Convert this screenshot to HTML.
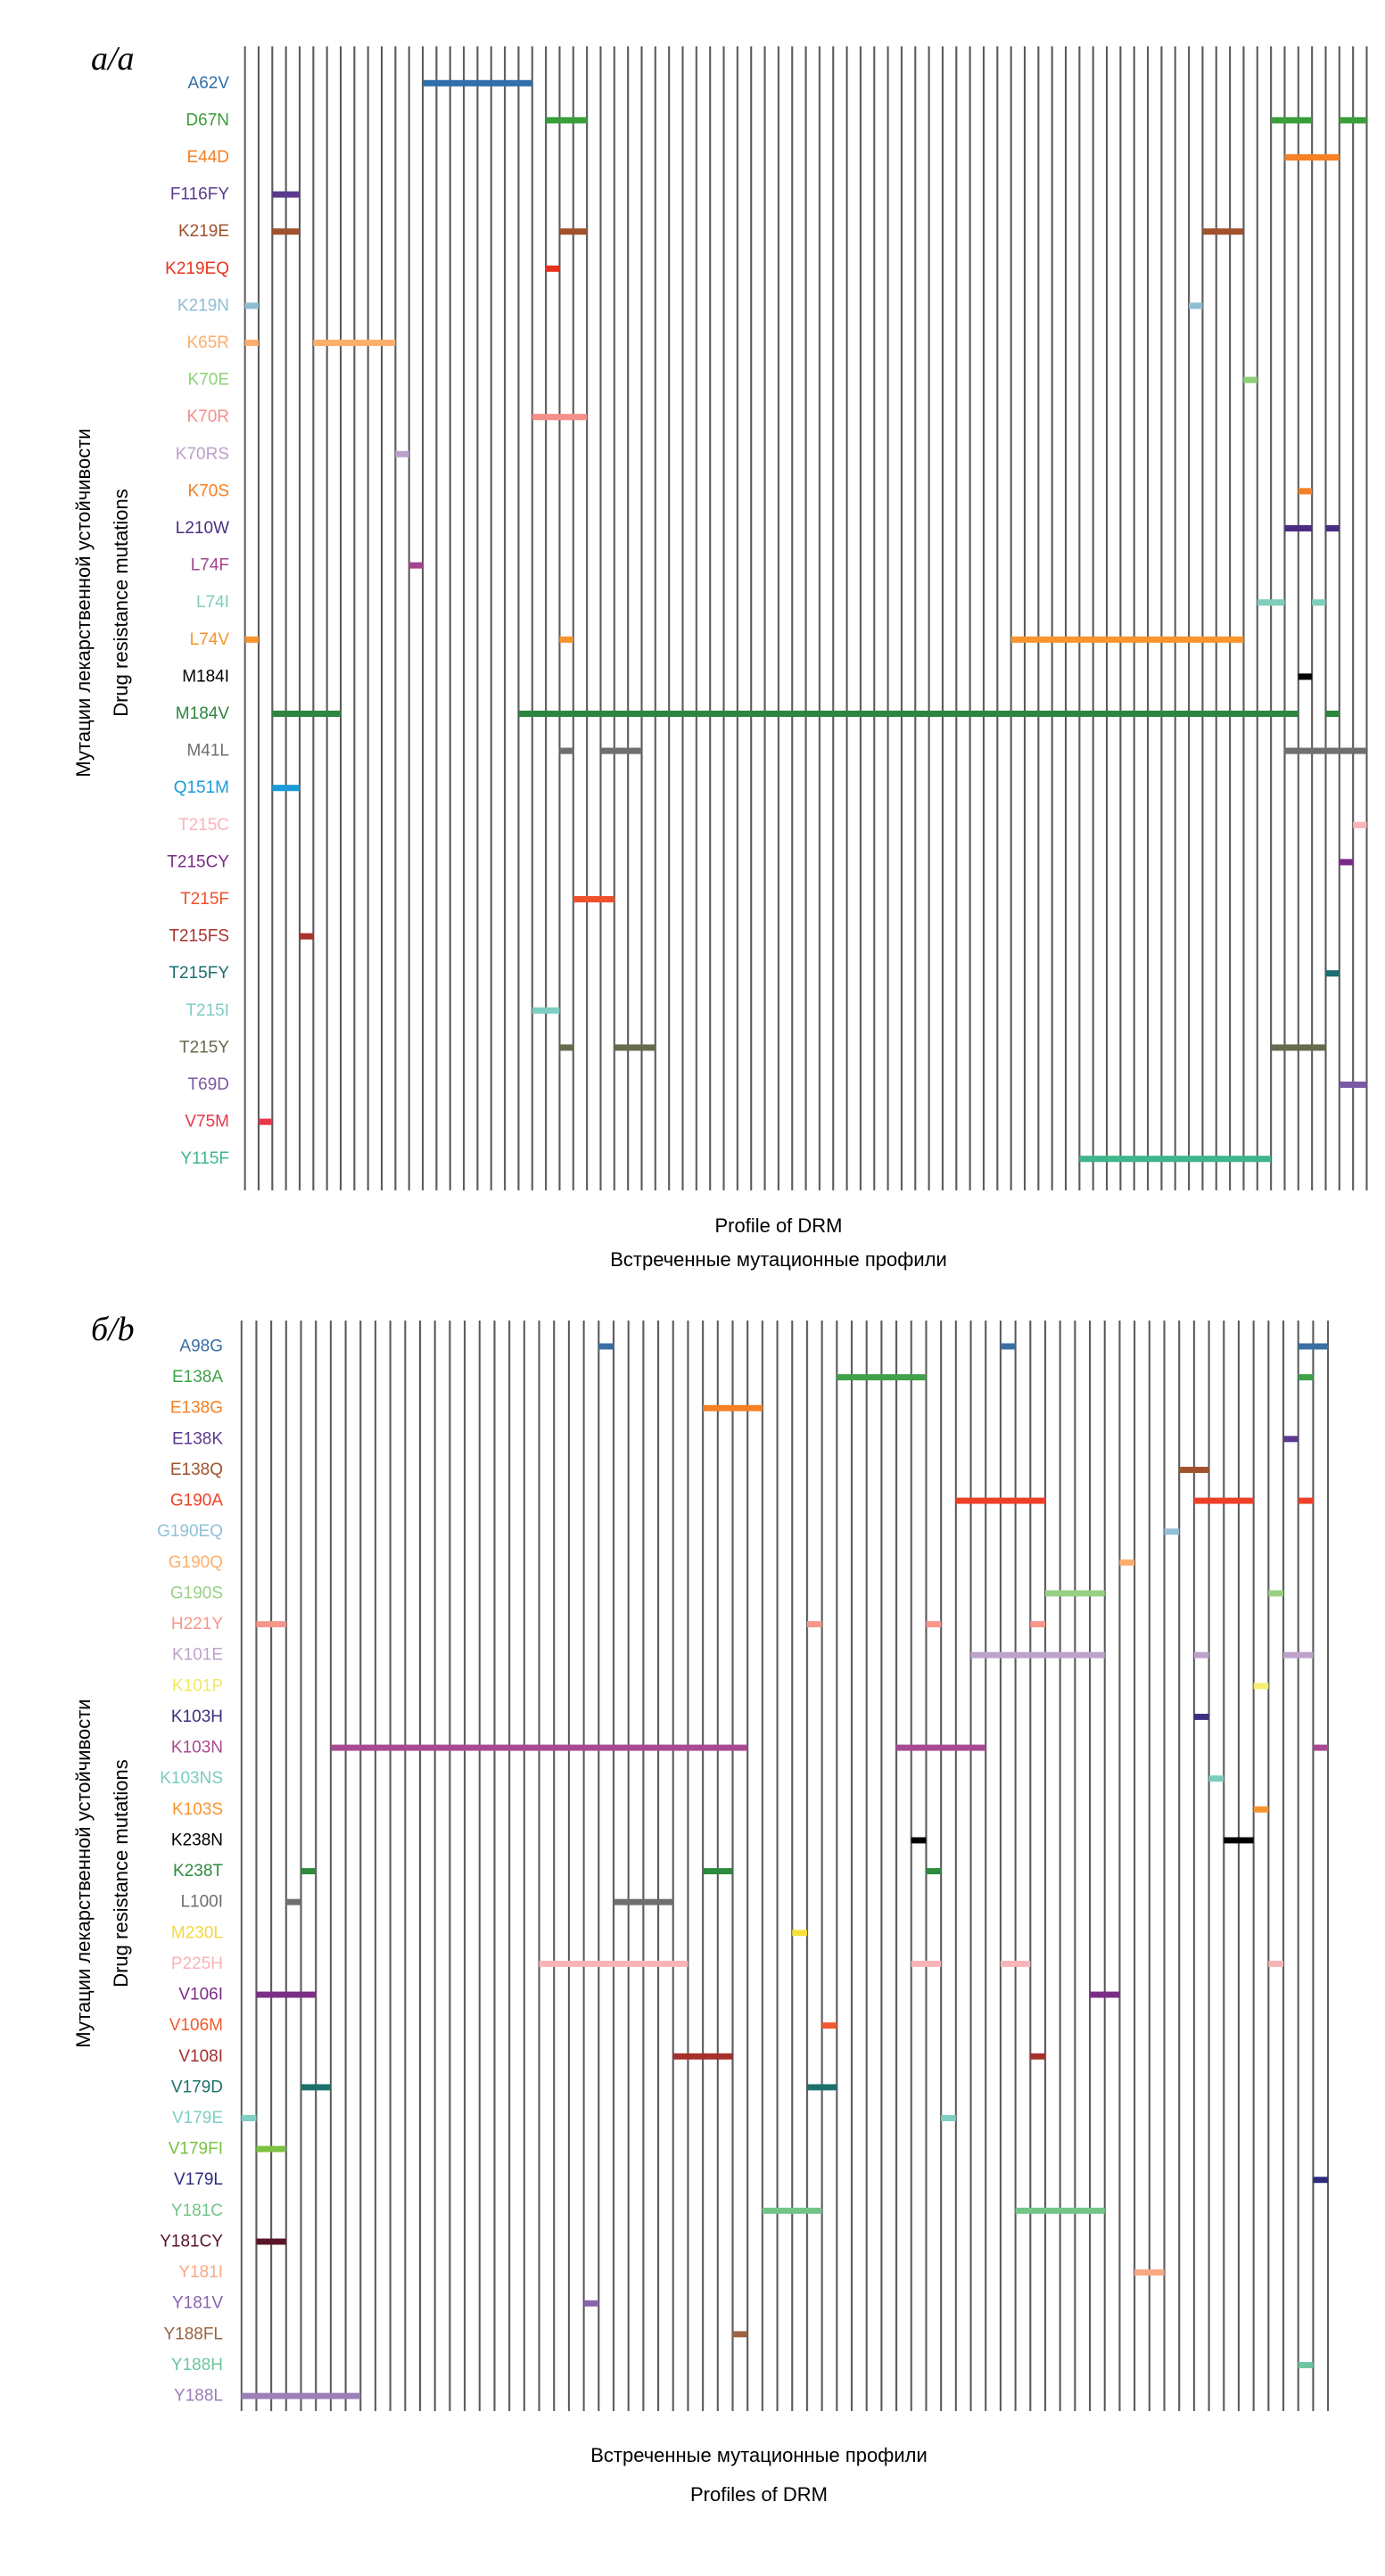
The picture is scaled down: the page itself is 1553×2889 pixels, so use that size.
<!DOCTYPE html>
<html><head><meta charset="utf-8">
<style>
html,body{margin:0;padding:0;background:#fff;}
svg{display:block;}
.lab{font-family:"Liberation Sans",sans-serif;font-size:19px;text-anchor:end;dominant-baseline:central;}
.ttl{font-family:"Liberation Sans",sans-serif;font-size:22px;fill:#000;text-anchor:middle;}
.pl{font-family:"Liberation Serif",serif;font-style:italic;font-size:38px;fill:#000;}
</style></head>
<body>
<svg width="1553" height="2889" viewBox="0 0 1553 2889" xmlns="http://www.w3.org/2000/svg">
<defs>
<pattern id="g1" patternUnits="userSpaceOnUse" x="273.6" y="0" width="15.34" height="10"><rect x="0" y="0" width="2.1" height="10" fill="#5a5a5a"/></pattern>
<pattern id="g2" patternUnits="userSpaceOnUse" x="269.7" y="0" width="16.69" height="10"><rect x="0" y="0" width="2.1" height="10" fill="#5a5a5a"/></pattern>
</defs>
<rect width="1553" height="2889" fill="#fff"/>
<rect x="273.6" y="52" width="1260.2" height="1283" fill="url(#g1)"/>
<rect x="269.7" y="1481" width="1220.5" height="1223" fill="url(#g2)"/>

<text class="pl" x="102" y="78">а/a</text>
<text class="pl" x="102" y="1503">б/b</text>

<text class="ttl" transform="translate(101,676) rotate(-90)">Мутации лекарственной устойчивости</text>
<text class="ttl" transform="translate(143,676) rotate(-90)">Drug resistance mutations</text>
<text class="ttl" transform="translate(101,2101) rotate(-90)">Мутации лекарственной устойчивости</text>
<text class="ttl" transform="translate(143,2101) rotate(-90)">Drug resistance mutations</text>

<text class="ttl" x="873" y="1382">Profile of DRM</text>
<text class="ttl" x="873" y="1420">Встреченные мутационные профили</text>
<text class="ttl" x="851" y="2761">Встреченные мутационные профили</text>
<text class="ttl" x="851" y="2805">Profiles of DRM</text>

<!-- top labels -->
<g transform="translate(257,93.3)">
<text class="lab" y="0" fill="#2f6fab">A62V</text>
<text class="lab" y="41.6" fill="#3a9e3a">D67N</text>
<text class="lab" y="83.2" fill="#f58025">E44D</text>
<text class="lab" y="124.8" fill="#5b3a8e">F116FY</text>
<text class="lab" y="166.4" fill="#a0522d">K219E</text>
<text class="lab" y="208" fill="#e8321e">K219EQ</text>
<text class="lab" y="249.6" fill="#8fbdd3">K219N</text>
<text class="lab" y="291.2" fill="#fdae6b">K65R</text>
<text class="lab" y="332.8" fill="#8fd17a">K70E</text>
<text class="lab" y="374.4" fill="#f4908a">K70R</text>
<text class="lab" y="416" fill="#bca0cc">K70RS</text>
<text class="lab" y="457.6" fill="#f58025">K70S</text>
<text class="lab" y="499.2" fill="#4a2d82">L210W</text>
<text class="lab" y="540.8" fill="#a4448f">L74F</text>
<text class="lab" y="582.4" fill="#7fcdbb">L74I</text>
<text class="lab" y="624" fill="#f7942c">L74V</text>
<text class="lab" y="665.6" fill="#000">M184I</text>
<text class="lab" y="707.2" fill="#2e8540">M184V</text>
<text class="lab" y="748.8" fill="#6f6f6f">M41L</text>
<text class="lab" y="790.4" fill="#1a9bd7">Q151M</text>
<text class="lab" y="832" fill="#fbb4b9">T215C</text>
<text class="lab" y="873.6" fill="#7b2a8a">T215CY</text>
<text class="lab" y="915.2" fill="#f0502a">T215F</text>
<text class="lab" y="956.8" fill="#a8322d">T215FS</text>
<text class="lab" y="998.4" fill="#1c6f6f">T215FY</text>
<text class="lab" y="1040" fill="#7fcdc4">T215I</text>
<text class="lab" y="1081.6" fill="#666b4d">T215Y</text>
<text class="lab" y="1123.2" fill="#7a58a3">T69D</text>
<text class="lab" y="1164.8" fill="#e8364a">V75M</text>
<text class="lab" y="1206.4" fill="#3fb58a">Y115F</text>
</g>

<svg x="274.6" y="93.3" width="1257.9" height="1206.4" viewBox="0 0 82 29" preserveAspectRatio="none" overflow="visible">
<g transform="translate(0,-0.085)">
<rect x="13" y="0" width="8" height="0.17" fill="#2f6fab"/>
<g fill="#3a9e3a"><rect x="22" y="1" width="3" height="0.17"/><rect x="75" y="1" width="3" height="0.17"/><rect x="80" y="1" width="2" height="0.17"/></g>
<rect x="76" y="2" width="4" height="0.17" fill="#f58025"/>
<rect x="2" y="3" width="2" height="0.17" fill="#5b3a8e"/>
<g fill="#a0522d"><rect x="2" y="4" width="2" height="0.17"/><rect x="23" y="4" width="2" height="0.17"/><rect x="70" y="4" width="3" height="0.17"/></g>
<rect x="22" y="5" width="1" height="0.17" fill="#e8321e"/>
<g fill="#8fbdd3"><rect x="0" y="6" width="1" height="0.17"/><rect x="69" y="6" width="1" height="0.17"/></g>
<g fill="#fdae6b"><rect x="0" y="7" width="1" height="0.17"/><rect x="5" y="7" width="6" height="0.17"/></g>
<rect x="73" y="8" width="1" height="0.17" fill="#8fd17a"/>
<rect x="21" y="9" width="4" height="0.17" fill="#f4908a"/>
<rect x="11" y="10" width="1" height="0.17" fill="#bca0cc"/>
<rect x="77" y="11" width="1" height="0.17" fill="#f58025"/>
<g fill="#4a2d82"><rect x="76" y="12" width="2" height="0.17"/><rect x="79" y="12" width="1" height="0.17"/></g>
<rect x="12" y="13" width="1" height="0.17" fill="#a4448f"/>
<g fill="#7fcdbb"><rect x="74" y="14" width="2" height="0.17"/><rect x="78" y="14" width="1" height="0.17"/></g>
<g fill="#f7942c"><rect x="0" y="15" width="1" height="0.17"/><rect x="23" y="15" width="1" height="0.17"/><rect x="56" y="15" width="17" height="0.17"/></g>
<rect x="77" y="16" width="1" height="0.17" fill="#000"/>
<g fill="#2e8540"><rect x="2" y="17" width="5" height="0.17"/><rect x="20" y="17" width="57" height="0.17"/><rect x="79" y="17" width="1" height="0.17"/></g>
<g fill="#6f6f6f"><rect x="23" y="18" width="1" height="0.17"/><rect x="26" y="18" width="3" height="0.17"/><rect x="76" y="18" width="6" height="0.17"/></g>
<rect x="2" y="19" width="2" height="0.17" fill="#1a9bd7"/>
<rect x="81" y="20" width="1" height="0.17" fill="#fbb4b9"/>
<rect x="80" y="21" width="1" height="0.17" fill="#7b2a8a"/>
<rect x="24" y="22" width="3" height="0.17" fill="#f0502a"/>
<rect x="4" y="23" width="1" height="0.17" fill="#a8322d"/>
<rect x="79" y="24" width="1" height="0.17" fill="#1c6f6f"/>
<rect x="21" y="25" width="2" height="0.17" fill="#7fcdc4"/>
<g fill="#666b4d"><rect x="23" y="26" width="1" height="0.17"/><rect x="27" y="26" width="3" height="0.17"/><rect x="75" y="26" width="4" height="0.17"/></g>
<rect x="80" y="27" width="2" height="0.17" fill="#7a58a3"/>
<rect x="1" y="28" width="1" height="0.17" fill="#e8364a"/>
<rect x="61" y="29" width="14" height="0.17" fill="#3fb58a"/>
</g>
</svg>

<!-- bottom labels -->
<g transform="translate(250,1510)">
<text class="lab" y="0" fill="#3a6ea5">A98G</text>
<text class="lab" y="34.62" fill="#3fa14a">E138A</text>
<text class="lab" y="69.24" fill="#f58025">E138G</text>
<text class="lab" y="103.86" fill="#5b3a8e">E138K</text>
<text class="lab" y="138.48" fill="#a0522d">E138Q</text>
<text class="lab" y="173.1" fill="#ee4028">G190A</text>
<text class="lab" y="207.72" fill="#92c0d8">G190EQ</text>
<text class="lab" y="242.34" fill="#fdae6b">G190Q</text>
<text class="lab" y="276.96" fill="#98d083">G190S</text>
<text class="lab" y="311.58" fill="#f6968c">H221Y</text>
<text class="lab" y="346.2" fill="#bda3cc">K101E</text>
<text class="lab" y="380.82" fill="#f0e860">K101P</text>
<text class="lab" y="415.44" fill="#3f2d7f">K103H</text>
<text class="lab" y="450.06" fill="#a84a92">K103N</text>
<text class="lab" y="484.68" fill="#7ccbbf">K103NS</text>
<text class="lab" y="519.3" fill="#f7942c">K103S</text>
<text class="lab" y="553.92" fill="#000">K238N</text>
<text class="lab" y="588.54" fill="#2d8a3e">K238T</text>
<text class="lab" y="623.16" fill="#6f6f6f">L100I</text>
<text class="lab" y="657.78" fill="#f5d93a">M230L</text>
<text class="lab" y="692.4" fill="#f8b4b8">P225H</text>
<text class="lab" y="727.02" fill="#7b2e85">V106I</text>
<text class="lab" y="761.64" fill="#f15a30">V106M</text>
<text class="lab" y="796.26" fill="#a5302c">V108I</text>
<text class="lab" y="830.88" fill="#1d716b">V179D</text>
<text class="lab" y="865.5" fill="#7ecfc5">V179E</text>
<text class="lab" y="900.12" fill="#7cc242">V179FI</text>
<text class="lab" y="934.74" fill="#2e2c7d">V179L</text>
<text class="lab" y="969.36" fill="#74c48a">Y181C</text>
<text class="lab" y="1003.98" fill="#5a1428">Y181CY</text>
<text class="lab" y="1038.6" fill="#f7a983">Y181I</text>
<text class="lab" y="1073.22" fill="#8a62ad">Y181V</text>
<text class="lab" y="1107.84" fill="#9a6440">Y188FL</text>
<text class="lab" y="1142.46" fill="#6cc6a0">Y188H</text>
<text class="lab" y="1177.08" fill="#9b80b5">Y188L</text>
</g>

<svg x="270.7" y="1510" width="1218.4" height="1177.1" viewBox="0 0 73 34" preserveAspectRatio="none" overflow="visible">
<g transform="translate(0,-0.1)">
<g fill="#3a6ea5"><rect x="24" y="0" width="1" height="0.2"/><rect x="51" y="0" width="1" height="0.2"/><rect x="71" y="0" width="2" height="0.2"/></g>
<g fill="#3fa14a"><rect x="40" y="1" width="6" height="0.2"/><rect x="71" y="1" width="1" height="0.2"/></g>
<rect x="31" y="2" width="4" height="0.2" fill="#f58025"/>
<rect x="70" y="3" width="1" height="0.2" fill="#5b3a8e"/>
<rect x="63" y="4" width="2" height="0.2" fill="#a0522d"/>
<g fill="#ee4028"><rect x="48" y="5" width="6" height="0.2"/><rect x="64" y="5" width="4" height="0.2"/><rect x="71" y="5" width="1" height="0.2"/></g>
<rect x="62" y="6" width="1" height="0.2" fill="#92c0d8"/>
<rect x="59" y="7" width="1" height="0.2" fill="#fdae6b"/>
<g fill="#98d083"><rect x="54" y="8" width="4" height="0.2"/><rect x="69" y="8" width="1" height="0.2"/></g>
<g fill="#f6968c"><rect x="1" y="9" width="2" height="0.2"/><rect x="38" y="9" width="1" height="0.2"/><rect x="46" y="9" width="1" height="0.2"/><rect x="53" y="9" width="1" height="0.2"/></g>
<g fill="#bda3cc"><rect x="49" y="10" width="9" height="0.2"/><rect x="64" y="10" width="1" height="0.2"/><rect x="70" y="10" width="2" height="0.2"/></g>
<rect x="68" y="11" width="1" height="0.2" fill="#f5ef70"/>
<rect x="64" y="12" width="1" height="0.2" fill="#3f2d7f"/>
<g fill="#a84a92"><rect x="6" y="13" width="28" height="0.2"/><rect x="44" y="13" width="6" height="0.2"/><rect x="72" y="13" width="1" height="0.2"/></g>
<rect x="65" y="14" width="1" height="0.2" fill="#7ccbbf"/>
<rect x="68" y="15" width="1" height="0.2" fill="#f7942c"/>
<g fill="#000"><rect x="45" y="16" width="1" height="0.2"/><rect x="66" y="16" width="2" height="0.2"/></g>
<g fill="#2d8a3e"><rect x="4" y="17" width="1" height="0.2"/><rect x="31" y="17" width="2" height="0.2"/><rect x="46" y="17" width="1" height="0.2"/></g>
<g fill="#6f6f6f"><rect x="3" y="18" width="1" height="0.2"/><rect x="25" y="18" width="4" height="0.2"/></g>
<rect x="37" y="19" width="1" height="0.2" fill="#f5e13a"/>
<g fill="#f8b4b8"><rect x="20" y="20" width="10" height="0.2"/><rect x="45" y="20" width="2" height="0.2"/><rect x="51" y="20" width="2" height="0.2"/><rect x="69" y="20" width="1" height="0.2"/></g>
<g fill="#7b2e85"><rect x="1" y="21" width="4" height="0.2"/><rect x="57" y="21" width="2" height="0.2"/></g>
<rect x="39" y="22" width="1" height="0.2" fill="#f15a30"/>
<g fill="#a5302c"><rect x="29" y="23" width="4" height="0.2"/><rect x="53" y="23" width="1" height="0.2"/></g>
<g fill="#1d716b"><rect x="4" y="24" width="2" height="0.2"/><rect x="38" y="24" width="2" height="0.2"/></g>
<g fill="#7ecfc5"><rect x="0" y="25" width="1" height="0.2"/><rect x="47" y="25" width="1" height="0.2"/></g>
<rect x="1" y="26" width="2" height="0.2" fill="#7cc242"/>
<rect x="72" y="27" width="1" height="0.2" fill="#2e2c7d"/>
<g fill="#74c48a"><rect x="35" y="28" width="4" height="0.2"/><rect x="52" y="28" width="6" height="0.2"/></g>
<rect x="1" y="29" width="2" height="0.2" fill="#5a1428"/>
<rect x="60" y="30" width="2" height="0.2" fill="#f7a983"/>
<rect x="23" y="31" width="1" height="0.2" fill="#8a62ad"/>
<rect x="33" y="32" width="1" height="0.2" fill="#9a6440"/>
<rect x="71" y="33" width="1" height="0.2" fill="#6cc6a0"/>
<rect x="0" y="34" width="8" height="0.2" fill="#9b80b5"/>
</g>
</svg>
</svg>
</body></html>
